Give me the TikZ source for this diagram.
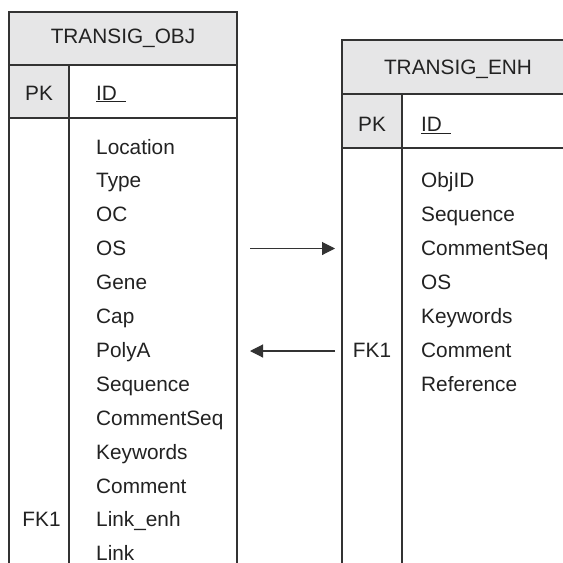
\documentclass[tikz,border=0pt]{standalone}
\usepackage{fontspec}
\setmainfont{Liberation Sans}
\usetikzlibrary{arrows.meta}
\definecolor{hdrgray}{HTML}{E6E6E7}
\definecolor{linegray}{HTML}{333333}
\definecolor{txt}{HTML}{222222}
\tikzset{
  tbl/.style={draw=linegray, line width=1.4pt},
  hdr/.style={tbl, fill=hdrgray},
  lbl/.style={inner sep=0pt, text=txt, font=\fontsize{20.8}{24}\selectfont},
  field/.style={lbl, anchor=base west},
  key/.style={lbl, anchor=base},
  link/.style={draw=linegray, line width=1.1pt, -{Triangle[length=13pt,width=13pt]}},
}
\begin{document}
\begin{tikzpicture}[x=1pt, y=-1pt]
\clip (0,0) rectangle (563,563);
\fill[white] (0,0) rectangle (563,563);

% ---- TRANSIG_OBJ ----
\draw[hdr] (9,12) rectangle (237,65);
\draw[hdr] (9,65) rectangle (69,118);
\draw[tbl] (69,65) rectangle (237,118);
\draw[tbl] (9,118) -- (9,580) (69,118) -- (69,580) (237,118) -- (237,580);
\node[key] (objtitle) at (123,43.3) {TRANSIG\_OBJ};
\node[key] (objpk) at (39,100) {PK};
\node[field] (objid) at (96,100) {\underline{ID\ \,}};
\foreach \name/\txtv [count=\i from 0] in {
  loc/Location, type/Type, oc/OC, os/OS, gene/Gene, cap/Cap, polya/PolyA,
  seq/Sequence, cseq/CommentSeq, kw/Keywords, com/Comment, lenh/Link\_enh, lnk/Link}
  \node[field] (obj-\name) at (96,154+33.9*\i) {\txtv};
\node[key] (objfk) at (41.5,526.9) {FK1};

% ---- TRANSIG_ENH ----
\draw[hdr] (342,40) rectangle (580,94);
\draw[hdr] (342,94) rectangle (402,148);
\draw[tbl] (402,94) rectangle (580,148);
\draw[tbl] (342,148) -- (342,580) (402,148) -- (402,580);
\node[key] (enhtitle) at (458,74.3) {TRANSIG\_ENH};
\node[key] (enhpk) at (372,131.7) {PK};
\node[field] (enhid) at (421,131.7) {\underline{ID\ \,}};
\foreach \name/\txtv [count=\i from 1] in {
  objid/ObjID, seq/Sequence, cseq/CommentSeq, os/OS, kw/Keywords, com/Comment, ref/Reference}
  \node[field] (enh-\name) at (421,154+33.9*\i) {\txtv};
\node[key] (enhfk) at (372,357.4) {FK1};

% ---- relationships ----
\coordinate (fwdA) at (250,248.5);
\coordinate (fwdB) at (335,248.5);
\coordinate (bckA) at (335,351);
\coordinate (bckB) at (250,351);
\draw[link] (fwdA) -- (fwdB);
\draw[link] (bckA) -- (bckB);
\end{tikzpicture}
\end{document}
